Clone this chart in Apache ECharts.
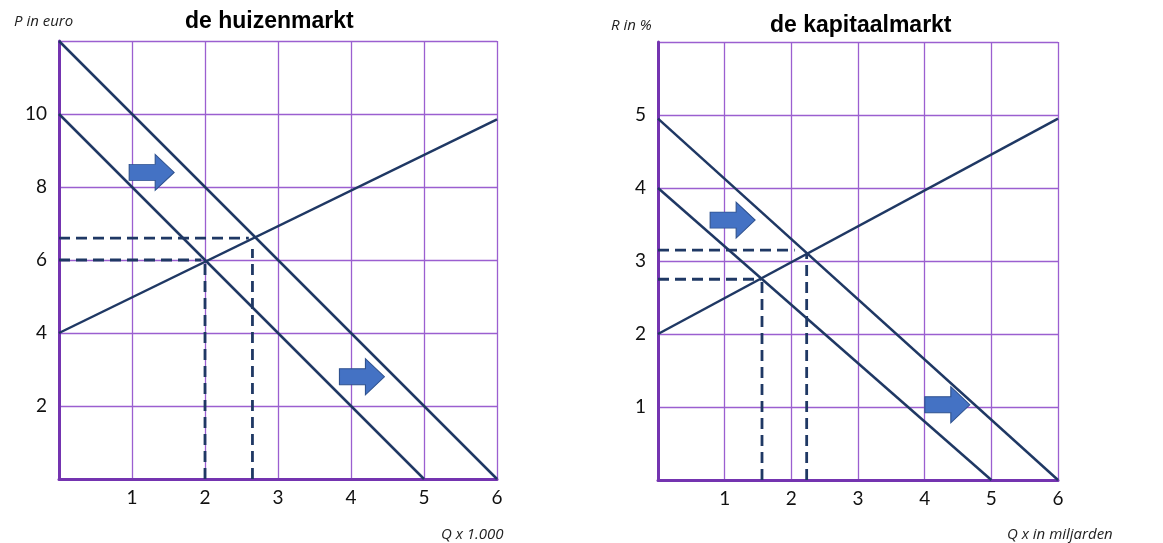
<!DOCTYPE html>
<html>
<head>
<meta charset="utf-8">
<script src="https://cdn.jsdelivr.net/npm/echarts@6/dist/echarts.min.js"></script>
<style>
	html,body{margin:0;padding:0;background:#fff;}
	#chart{width:1163px;height:543px;}
</style>
</head>
<body>
<div id="chart"></div>
<script>
// huizenmarkt (links)
var huisVraag1 = [[0, 10], [5, 0]];
var huisVraag2 = [[0, 12], [6, 0]];
var huisAanbod = [[0, 4], [6, 9.85]];
var huisStippel = [
	[[0, 6.6], [2.6, 6.6]],
	[[0, 6], [1.95, 6]],
	[[2, 0], [2, 6]],
	[[2.65, 0], [2.65, 6.3]]
];
var huisPijlen = [[1.27, 8.4], [4.15, 2.8]];

// kapitaalmarkt (rechts)
var kapVraag1 = [[0, 4], [5, 0]];
var kapVraag2 = [[0, 4.95], [6, 0]];
var kapAanbod = [[0, 2], [6, 4.95]];
var kapStippel = [
	[[0, 3.15], [2.05, 3.15]],
	[[0, 2.75], [1.55, 2.75]],
	[[1.56, 0], [1.56, 2.75]],
	[[2.23, 0], [2.23, 3.1]]
];
var kapPijlen = [[1.12, 3.56], [4.34, 1.03]];

var lijnKleur = '#1f3864';
var rasterKleur = '#9b5fd0';
var asKleur = '#7434b0';
var pijlPad = 'path://M0,10 L26,10 L26,0 L45,18 L26,36 L26,26 L0,26 Z';

function xAs(gridIndex){
	return {
		type:'value', gridIndex:gridIndex, min:0, max:6, interval:1,
		axisLine:{show:true, onZero:false, lineStyle:{color:asKleur, width:3}},
		axisTick:{show:false},
		splitLine:{show:true, lineStyle:{color:rasterKleur, width:1.3}},
		axisLabel:{color:'#111', fontSize:19, fontFamily:'Lato', margin:9,
			formatter:function(v){ return v === 0 ? '' : v; }}
	};
}
function yAs(gridIndex, max, interval){
	return {
		type:'value', gridIndex:gridIndex, min:0, max:max, interval:interval,
		axisLine:{show:true, onZero:false, lineStyle:{color:asKleur, width:3}},
		axisTick:{show:false},
		splitLine:{show:true, lineStyle:{color:rasterKleur, width:1.3}},
		axisLabel:{color:'#111', fontSize:19, fontFamily:'Lato', margin:12,
			formatter:function(v){ return (v === 0 || v === max) ? '' : v; }}
	};
}
function lijn(data, idx){
	return {type:'line', xAxisIndex:idx, yAxisIndex:idx, data:data, symbol:'none',
		lineStyle:{color:lijnKleur, width:2.5}, silent:true, z:3};
}
function stippel(data, idx){
	return {type:'line', xAxisIndex:idx, yAxisIndex:idx, data:data, symbol:'none',
		lineStyle:{color:lijnKleur, width:2.8, type:[11, 6]}, silent:true, z:3};
}
function pijlen(data, idx){
	return {type:'scatter', xAxisIndex:idx, yAxisIndex:idx, data:data,
		symbol:pijlPad, symbolSize:[45, 36],
		itemStyle:{color:'#4472c4', borderColor:'#2f528f', borderWidth:1, opacity:1},
		silent:true, z:5};
}

var series = [
	lijn(huisVraag1, 0), lijn(huisVraag2, 0), lijn(huisAanbod, 0),
	lijn(kapVraag1, 1), lijn(kapVraag2, 1), lijn(kapAanbod, 1),
	pijlen(huisPijlen, 0), pijlen(kapPijlen, 1)
];
huisStippel.forEach(function(d){ series.push(stippel(d, 0)); });
kapStippel.forEach(function(d){ series.push(stippel(d, 1)); });

var titelStijl = {fontSize:23, fontWeight:'bold', fontFamily:'Liberation Sans', color:'#000'};
var naamStijl = {fontSize:15, fontStyle:'italic', fontWeight:'normal', fontFamily:'Open Sans', color:'#222'};

var myChart = echarts.init(document.getElementById('chart'));
var option = {
	backgroundColor:'#fff',
	animation:false,
	title:[
		{text:'de huizenmarkt', left:180, top:5, textStyle:titelStijl},
		{text:'de kapitaalmarkt', left:765, top:9, textStyle:titelStijl},
		{text:'P in euro', left:9, top:9, textStyle:naamStijl},
		{text:'R in %', left:606, top:13, textStyle:naamStijl},
		{text:'Q x 1.000', left:436, top:522, textStyle:naamStijl},
		{text:'Q x in miljarden', left:1002, top:522, textStyle:naamStijl}
	],
	grid:[
		{left:59, top:41, width:438, height:438},
		{left:658, top:42, width:400, height:438}
	],
	xAxis:[xAs(0), xAs(1)],
	yAxis:[yAs(0, 12, 2), yAs(1, 6, 1)],
	series:series
};
myChart.setOption(option);
</script>
</body>
</html>
